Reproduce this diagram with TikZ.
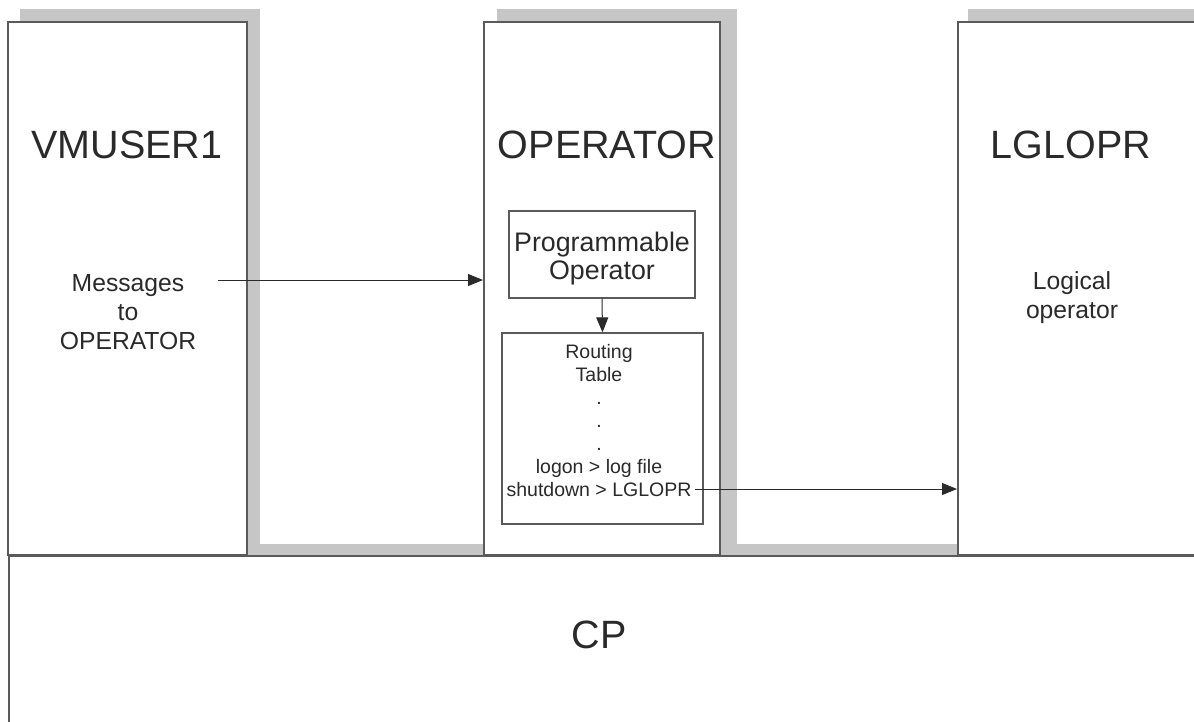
\documentclass[tikz,border=0pt]{standalone}
\usepackage{fontspec}
\setmainfont{Liberation Sans}
\usetikzlibrary{arrows.meta}
\definecolor{linecol}{HTML}{5A5A5A}
\definecolor{shadowcol}{HTML}{C6C6C6}
\definecolor{txt}{HTML}{2A2A2A}
\begin{document}
\begin{tikzpicture}[x=1pt,y=-1pt,
  sysbox/.style={draw=linecol, line width=2pt, fill=white, inner sep=0pt},
  shadowfill/.style={fill=shadowcol, draw=none},
  inbox/.style={draw=linecol, line width=1.3pt, fill=white, inner sep=0pt},
  conn/.style={draw=txt, line width=1pt, -{Triangle[length=15pt,width=12pt]}},
  title/.style={font=\fontsize{39.5}{44}\selectfont, text=txt, inner sep=0pt},
  label/.style={font=\fontsize{24.7}{28.8}\selectfont, text=txt, align=center, inner sep=0pt},
  small/.style={font=\fontsize{19.5}{23}\selectfont, text=txt, align=center, inner sep=0pt}
]
\useasboundingbox (0,0) rectangle (1194,721);
% shadows
\fill[shadowfill] (20,9) rectangle (260,22);
\fill[shadowfill] (247,9) rectangle (260,555);
\fill[shadowfill] (247,544) rectangle (484,555);
\fill[shadowfill] (497,9) rectangle (737,22);
\fill[shadowfill] (720,9) rectangle (737,555);
\fill[shadowfill] (720,544) rectangle (958,555);
\fill[shadowfill] (968,9) rectangle (1200,22);
% system boxes
\node[sysbox, minimum width=239pt, minimum height=533pt] (vm) at (127.5,288.5) {};
\node[sysbox, minimum width=236pt, minimum height=533pt] (op) at (602,288.5) {};
\node[sysbox, minimum width=250pt, minimum height=533pt] (lgl) at (1083,288.5) {};
\node[sysbox, minimum width=1200pt, minimum height=200pt, anchor=north west] (cp) at (8,555) {};
% titles
\node[title] (vmt) at (127,145) {VMUSER1};
\node[title] (opt) at (607,145) {OPERATOR};
\node[title] (lglt) at (1071,145) {LGLOPR};
\node[title] (cpt) at (599,635) {CP};
% inner text
\node[label] (msg) at (128,312) {Messages\\to\\OPERATOR};
\node[label] (logop) at (1072,298) {Logical\\operator};
% programmable operator
\node[inbox, minimum width=186pt, minimum height=87pt] (pm) at (602,254.5) {};
\node[font=\fontsize{26.8}{28}\selectfont, text=txt, align=center, inner sep=0pt] (pmt) at (602,259) {Programmable\\Operator};
% routing table
\node[inbox, minimum width=201pt, minimum height=191pt] (rt) at (602.5,428.5) {};
\node[small] (rtt) at (599,421) {Routing\\Table\\.\\.\\.\\logon > log file\\shutdown > LGLOPR};
% connectors
\coordinate (msgend) at (218,280);
\coordinate (shutend) at (695,489);
\draw[conn] (msgend) -- (msgend -| op.west);
\draw[conn] (pm.south) -- (rt.north);
\draw[conn] (shutend) -- (shutend -| lgl.west);
\end{tikzpicture}
\end{document}
